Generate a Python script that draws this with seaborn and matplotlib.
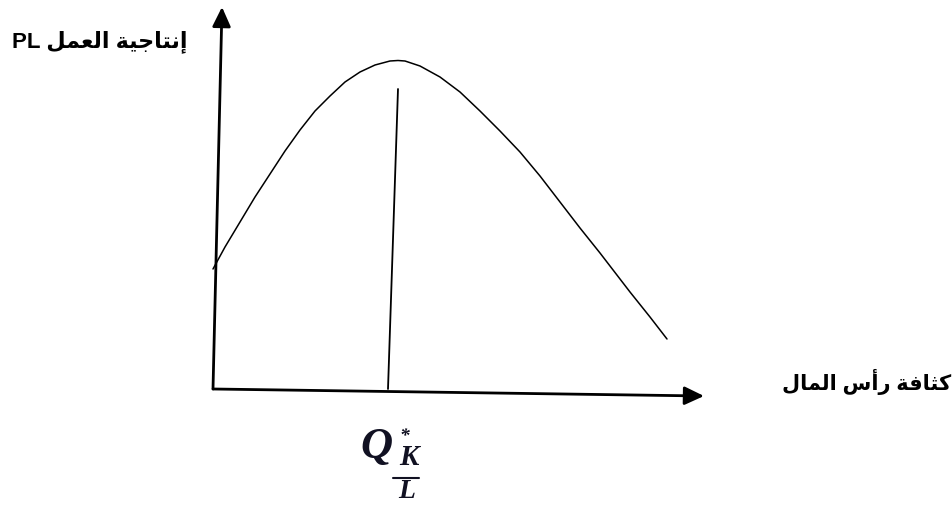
import matplotlib
matplotlib.use("Agg")
import matplotlib.pyplot as plt
import seaborn as sns
from matplotlib.lines import Line2D

# Curve (capital intensity vs labour productivity)
curve_x = [0.0, 1.2, 2.7, 4.2, 5.7, 7.2, 8.7, 10.2, 11.7, 13.2, 14.7, 16.2,
           17.7, 18.5, 19.2, 20.7, 22.7, 24.7, 26.7, 28.7, 30.7, 32.7, 34.7,
           36.7, 38.7, 41.7, 43.7, 45.4]
curve_y = [12.0, 14.2, 16.7, 19.2, 21.5, 23.8, 25.9, 27.8, 29.3, 30.7, 31.7,
           32.4, 32.8, 32.85, 32.8, 32.3, 31.2, 29.7, 27.8, 25.8, 23.7, 21.3,
           18.7, 16.1, 13.6, 9.7, 7.2, 5.0]

# Line marking the optimum K/L
q_star_x = [17.5, 18.5]
q_star_y = [0.0, 30.0]

# Axis ends (the hand-drawn axes lean slightly)
x_axis_end = (49.1, -0.7)
y_axis_end = (0.9, 38.2)

# Arabic labels in visual (left-to-right) order with shaped forms
y_label = "PL \uFEDE\uFEE4\uFECC\uFEDF\uFE8D \uFE94\uFEF4\uFE9F\uFE8E\uFE98\uFEE7\uFE87"
x_label = "\uFEDD\uFE8E\uFEE4\uFEDF\uFE8D \uFEB1\uFE83\uFEAD \uFE94\uFED3\uFE8E\uFE9C\uFEDB"

sns.set_style("white")
plt.rcParams["font.family"] = ["Liberation Sans", "DejaVu Sans"]
plt.rcParams["text.color"] = "black"

fig = plt.figure(figsize=(9.53, 5.06), dpi=100)
ax = fig.add_axes([0, 0, 1, 1])
ax.set_xlim(-21.3, 74.0)
ax.set_ylim(-11.6, 39.0)
ax.axis("off")

sns.lineplot(x=curve_x, y=curve_y, ax=ax, color="black", linewidth=1.1,
             sort=False, estimator=None)
sns.lineplot(x=q_star_x, y=q_star_y, ax=ax, color="black", linewidth=1.3,
             sort=False, estimator=None)

arrow = dict(arrowstyle="-|>,head_length=0.85,head_width=0.4", lw=2,
             color="black", mutation_scale=14, shrinkA=0, shrinkB=0)
ax.annotate("", xy=x_axis_end, xytext=(0, 0), arrowprops=arrow)
ax.annotate("", xy=y_axis_end, xytext=(0, 0), arrowprops=arrow)

W, H = 953, 506
fig.text(188 / W, 1 - 42 / H, y_label, ha="right", va="center",
         fontsize=16, fontweight="bold", color="black")
fig.text(951 / W, 1 - 382 / H, x_label, ha="right", va="center",
         fontsize=15, fontweight="bold", color="black")

# Q*_{K/L}
serif = dict(family="Liberation Serif", fontweight="bold", style="italic",
             color="#111122")
fig.text(376 / W, 1 - 447 / H, "Q", ha="center", va="center", fontsize=32, **serif)
fig.text(404 / W, 1 - 437 / H, "*", ha="center", va="center", fontsize=14, **serif)
fig.text(409 / W, 1 - 458 / H, "K", ha="center", va="center", fontsize=21, **serif)
fig.add_artist(Line2D([393 / W, 419 / W], [1 - 479 / H, 1 - 479 / H],
                      transform=fig.transFigure, color="#111122", lw=1.5))
fig.text(407 / W, 1 - 492 / H, "L", ha="center", va="center", fontsize=20, **serif)

fig.savefig("out.png", dpi=100)
